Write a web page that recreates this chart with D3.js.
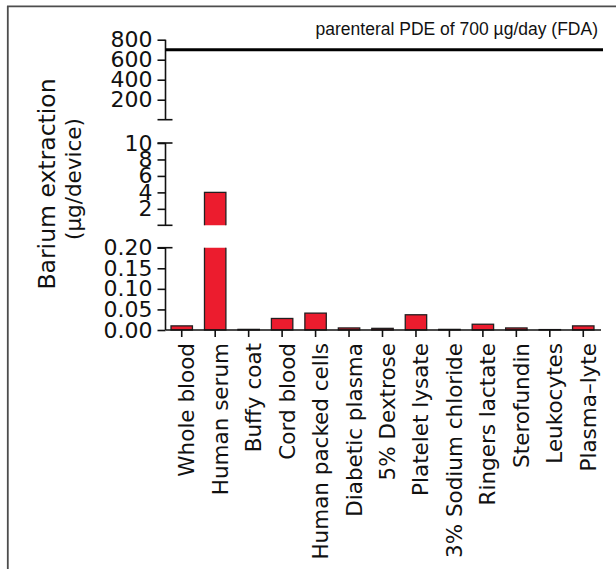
<!DOCTYPE html>
<html>
<head>
<meta charset="utf-8">
<script src="https://cdn.jsdelivr.net/npm/d3@7"></script>
<style>
  html, body { margin: 0; padding: 0; background: #fff; }
  svg { display: block; }
  text { font-family: "DejaVu Sans", sans-serif; fill: #111; }
</style>
</head>
<body>
<svg id="chart" width="616" height="569"></svg>
<script>
// Barium extracted per device, by contact solution (µg/device)
const categories = [
  "Whole blood", "Human serum", "Buffy coat", "Cord blood", "Human packed cells",
  "Diabetic plasma", "5% Dextrose", "Platelet lysate", "3% Sodium chloride",
  "Ringers lactate", "Sterofundin", "Leukocytes", "Plasma\u2013lyte"
];
const values = [0.010, 4.0, 0.0015, 0.028, 0.041, 0.005, 0.004, 0.037, 0.0015, 0.014, 0.005, 0.001, 0.010];

// Broken y axis: three stacked segments
const lowTicks = [0, 0.05, 0.10, 0.15, 0.20];
const midTicks = [2, 4, 6, 8, 10];
const topTicks = [200, 400, 600, 800];
const pdeLimit = 700;
const pdeLabel = "parenteral PDE of 700 \u00b5g/day (FDA)";
const yTitle = ["Barium extraction", "(\u00b5g/device)"];

const svg = d3.select("#chart");
const axisX = 165.5;
const xEnd = 601;

// frame lines
svg.append("line").attr("x1", 7).attr("x2", 616).attr("y1", 6.3).attr("y2", 6.3)
  .attr("stroke", "#4d4d4d").attr("stroke-width", 1.8);
svg.append("line").attr("x1", 7.8).attr("x2", 7.8).attr("y1", 6).attr("y2", 569)
  .attr("stroke", "#4d4d4d").attr("stroke-width", 1.8);

const x = d3.scaleBand().domain(categories).range([165, 600])
  .paddingInner(0.36).paddingOuter(0.18);

const segments = [
  { lo: 0, hi: 0.20, scale: d3.scaleLinear().domain([0, 0.20]).range([330, 247.7]),
    ticks: lowTicks, fmt: d3.format(".2f"), capTop: true, capBottom: false, base: true },
  { lo: 0.20, hi: 10, scale: d3.scaleLinear().domain([0, 10]).range([225.3, 143]),
    ticks: midTicks, fmt: d3.format("d"), capTop: true, capBottom: true, base: false },
  { lo: 10, hi: 800, scale: d3.scaleLinear().domain([0, 800]).range([119.7, 39.7]),
    ticks: topTicks, fmt: d3.format("d"), capTop: false, capBottom: true, base: false }
];

const data = categories.map((c, i) => ({ c, v: values[i] }));

segments.forEach((s, si) => {
  const yBottom = s.scale.range()[0];
  const yTopPx = s.scale.range()[1];
  const clipId = "clip" + si;
  svg.append("clipPath").attr("id", clipId)
    .append("rect").attr("x", 150).attr("width", 460)
    .attr("y", yTopPx).attr("height", yBottom - yTopPx + (s.base ? 2 : 0));

  // bars that reach into this segment
  const shown = data.filter(d => s.base ? d.v > 0 : d.v > s.lo);
  svg.append("g").attr("clip-path", `url(#${clipId})`)
    .selectAll("rect").data(shown).join("rect")
    .attr("x", d => x(d.c))
    .attr("width", x.bandwidth())
    .attr("y", d => d.v > s.hi ? yTopPx - 3 : s.scale(d.v))
    .attr("height", d => {
      const top = d.v > s.hi ? yTopPx - 3 : s.scale(d.v);
      const bot = s.base ? yBottom : yBottom + 3;
      return Math.max(0, bot - top);
    })
    .attr("fill", "#ec1c2e")
    .attr("stroke", "#231f20")
    .attr("stroke-width", 1.3);

  // axis for this segment
  const ax = d3.axisLeft(s.scale).tickValues(s.ticks).tickFormat(s.fmt)
    .tickSize(8).tickPadding(5).tickSizeOuter(0);
  const g = svg.append("g").attr("transform", `translate(${axisX},0)`).call(ax);
  g.select(".domain").attr("d", `M0,${yTopPx}V${yBottom}`)
    .attr("stroke", "#111").attr("stroke-width", 1.6);
  g.selectAll(".tick line").attr("stroke", "#111").attr("stroke-width", 1.6);
  g.selectAll(".tick text").style("font-size", "22px")
    .style("font-family", "'DejaVu Sans', sans-serif").attr("fill", "#111");

  // break caps
  const caps = [];
  if (s.capTop) caps.push(yTopPx);
  if (s.capBottom) caps.push(yBottom);
  caps.forEach(cy => {
    svg.append("line").attr("x1", axisX - 8).attr("x2", axisX + 7)
      .attr("y1", cy).attr("y2", cy).attr("stroke", "#111").attr("stroke-width", 1.6);
  });
});

// PDE limit line
const yTop = segments[2].scale;
svg.append("line").attr("x1", axisX).attr("x2", 603)
  .attr("y1", yTop(pdeLimit)).attr("y2", yTop(pdeLimit))
  .attr("stroke", "#000").attr("stroke-width", 3);
svg.append("text").attr("x", 598).attr("y", 35)
  .attr("text-anchor", "end")
  .style("font-family", "'Liberation Sans', Arial, sans-serif")
  .style("font-size", "17.5px")
  .text(pdeLabel);

// category axis
const xAxis = d3.axisBottom(x).tickSize(7).tickSizeOuter(0);
const gx = svg.append("g").attr("transform", "translate(0,330)").call(xAxis);
gx.select(".domain").attr("d", `M${axisX},0H${xEnd}`)
  .attr("stroke", "#111").attr("stroke-width", 1.6);
gx.selectAll(".tick line").attr("stroke", "#111").attr("stroke-width", 1.6);
gx.selectAll(".tick text")
  .attr("transform", "rotate(-90)")
  .attr("x", -13).attr("y", 12.5).attr("dy", null)
  .style("text-anchor", "end")
  .style("font-size", "21.5px")
  .style("font-family", "'DejaVu Sans', sans-serif")
  .attr("fill", "#111");

// y title
svg.append("text")
  .attr("transform", "translate(55,184) rotate(-90)")
  .attr("text-anchor", "middle")
  .style("font-size", "23.5px")
  .text(yTitle[0]);
svg.append("text")
  .attr("transform", "translate(81,179) rotate(-90)")
  .attr("text-anchor", "middle")
  .style("font-size", "21.5px")
  .text(yTitle[1]);
</script>
</body>
</html>
